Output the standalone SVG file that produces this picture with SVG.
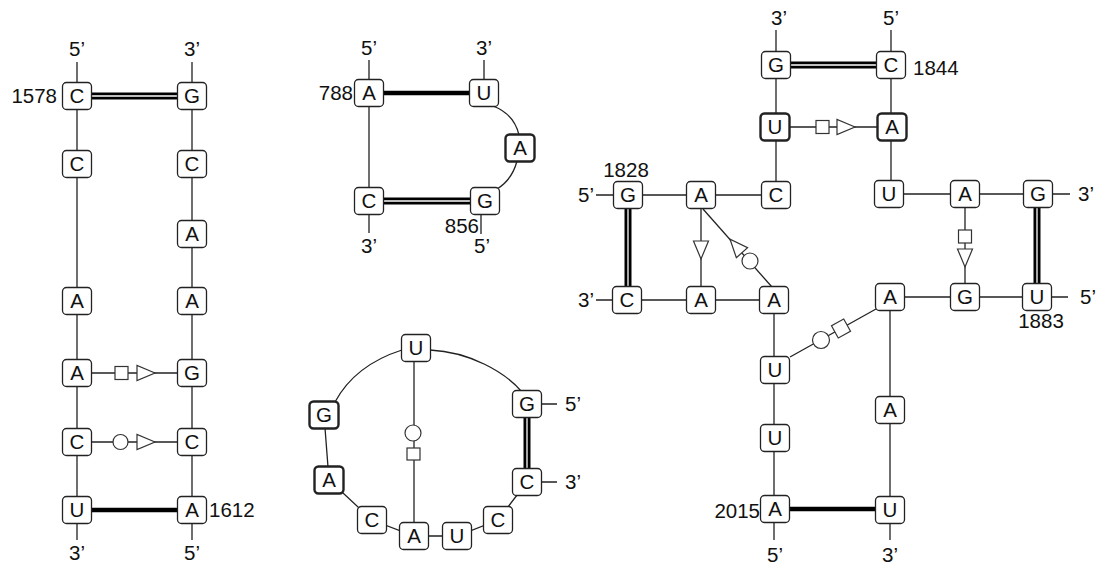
<svg xmlns="http://www.w3.org/2000/svg" width="1096" height="567" viewBox="0 0 1096 567">
<style>
.bg{fill:#fff}
.ln{stroke:#222;stroke-width:1.3;fill:none}
.thick{stroke:#000;stroke-width:4.5}
.dbl{stroke:#000;stroke-width:7}
.dblw{stroke:#fff;stroke-width:1.3}
.sym{fill:#fff;stroke:#333;stroke-width:1.2}
.n use{fill:#fff;stroke:#222;stroke-width:1.3}
.n.b use{stroke-width:2.4}
text{font-family:"Liberation Sans",Arial,sans-serif;font-size:20.5px;fill:#111}
.n text{text-anchor:middle}
.m{text-anchor:middle}
.e{text-anchor:end}
</style>
<defs>
<rect id="box" x="-14.5" y="-13.5" width="29" height="27" rx="4"/>
<polygon id="tri" points="9,0 -9,-7.5 -9,7.5"/>
</defs>
<rect class="bg" width="1096" height="567"/>
<g id="connectors">
<!-- panel 1 -->
<path class="ln" d="M77 62V540M192 62V540"/>
<line class="dbl" x1="91" y1="96" x2="178" y2="96"/><line class="dblw" x1="91" y1="96" x2="178" y2="96"/>
<line class="thick" x1="91" y1="510" x2="178" y2="510"/>
<line class="ln" x1="91" y1="373" x2="178" y2="373"/>
<rect class="sym" x="115" y="366.5" width="13" height="13"/>
<use href="#tri" class="sym" transform="translate(146,373)"/>
<line class="ln" x1="91" y1="442" x2="178" y2="442"/>
<circle class="sym" cx="120.5" cy="442" r="7.5"/>
<use href="#tri" class="sym" transform="translate(146,442)"/>
<!-- panel 2 -->
<path class="ln" d="M369 60V233M484 60V80M481 214V234"/>
<line class="thick" x1="383" y1="93" x2="470" y2="93"/>
<line class="dbl" x1="383" y1="201" x2="471" y2="201"/><line class="dblw" x1="383" y1="201" x2="471" y2="201"/>
<path class="ln" d="M493 106Q514 114 519 135M517 161Q512 180 497 189"/>
<!-- panel 3 -->
<path class="ln" d="M430 350C470 352 505 372 522 392M402 350Q355 365 335 402M324 415L329 480L372 520L414 536L457 536L498 520L527 482"/>
<line class="ln" x1="414" y1="361" x2="414" y2="523"/>
<circle class="sym" cx="413" cy="433" r="8"/>
<rect class="sym" x="407" y="448" width="13" height="12"/>
<line class="dbl" x1="527" y1="418" x2="527" y2="469"/><line class="dblw" x1="527" y1="418" x2="527" y2="469"/>
<path class="ln" d="M541 404H557M541 482H557"/>
<!-- panel 4 -->
<path class="ln" d="M776 30V195M891 30V194M596 195H776M596 300H774M889 194H1070M890 297H1068M774 300V540M890 297V540"/>
<line class="dbl" x1="790" y1="65" x2="877" y2="65"/><line class="dblw" x1="790" y1="65" x2="877" y2="65"/>
<line class="dbl" x1="628" y1="208" x2="628" y2="287"/><line class="dblw" x1="628" y1="208" x2="628" y2="287"/>
<line class="dbl" x1="1037" y1="207" x2="1037" y2="284"/><line class="dblw" x1="1037" y1="207" x2="1037" y2="284"/>
<line class="thick" x1="789" y1="509" x2="876" y2="509"/>
<line class="ln" x1="789" y1="127" x2="878" y2="127"/>
<rect class="sym" x="816" y="120.5" width="13" height="13"/>
<use href="#tri" class="sym" transform="translate(846,127)"/>
<line class="ln" x1="701" y1="208" x2="701" y2="287"/>
<use href="#tri" class="sym" transform="translate(701,250) rotate(90)"/>
<line class="ln" x1="703" y1="209" x2="772" y2="287"/>
<use href="#tri" class="sym" transform="translate(736,246) rotate(-131.5)"/>
<circle class="sym" cx="750" cy="261" r="8"/>
<line class="ln" x1="965" y1="207" x2="965" y2="284"/>
<rect class="sym" x="958.5" y="230" width="13" height="13"/>
<use href="#tri" class="sym" transform="translate(965,258) rotate(90)"/>
<line class="ln" x1="790" y1="357" x2="876" y2="309"/>
<circle class="sym" cx="821" cy="340" r="8.5"/>
<rect class="sym" x="-7" y="-7" width="14" height="14" transform="translate(841,328.5) rotate(-29)"/>
</g>
<g id="p1">
<g id="n1578" class="n"><use href="#box" x="77" y="96"/><text x="77" y="103">C</text></g>
<g id="p1l2" class="n"><use href="#box" x="77" y="164"/><text x="77" y="171">C</text></g>
<g id="p1l3" class="n"><use href="#box" x="77" y="301"/><text x="77" y="308">A</text></g>
<g id="p1l4" class="n"><use href="#box" x="77" y="373"/><text x="77" y="380">A</text></g>
<g id="p1l5" class="n"><use href="#box" x="77" y="442"/><text x="77" y="449">C</text></g>
<g id="p1l6" class="n"><use href="#box" x="77" y="510"/><text x="77" y="517">U</text></g>
<g id="p1r1" class="n"><use href="#box" x="192" y="96"/><text x="192" y="103">G</text></g>
<g id="p1r2" class="n"><use href="#box" x="192" y="164"/><text x="192" y="171">C</text></g>
<g id="p1r3" class="n"><use href="#box" x="192" y="234"/><text x="192" y="241">A</text></g>
<g id="p1r4" class="n"><use href="#box" x="192" y="301"/><text x="192" y="308">A</text></g>
<g id="p1r5" class="n"><use href="#box" x="192" y="373"/><text x="192" y="380">G</text></g>
<g id="p1r6" class="n"><use href="#box" x="192" y="442"/><text x="192" y="449">C</text></g>
<g id="n1612" class="n"><use href="#box" x="192" y="510"/><text x="192" y="517">A</text></g>
<text class="m" x="77" y="56">5’</text><text class="m" x="192" y="56">3’</text>
<text class="m" x="77" y="560">3’</text><text class="m" x="192" y="560">5’</text>
<text class="e" x="57" y="103">1578</text><text x="209" y="517">1612</text>
</g>
<g id="p2">
<g id="n788" class="n"><use href="#box" x="369" y="93"/><text x="369" y="100">A</text></g>
<g id="p2u" class="n"><use href="#box" x="484" y="93"/><text x="484" y="100">U</text></g>
<g id="p2a" class="n b"><use href="#box" x="520" y="148"/><text x="520" y="155">A</text></g>
<g id="p2c" class="n"><use href="#box" x="369" y="201"/><text x="369" y="208">C</text></g>
<g id="n856" class="n"><use href="#box" x="485" y="201"/><text x="485" y="208">G</text></g>
<text class="m" x="369" y="55">5’</text><text class="m" x="484" y="55">3’</text>
<text class="m" x="369" y="253">3’</text><text class="m" x="482" y="253">5’</text>
<text class="e" x="353" y="100">788</text><text class="e" x="479" y="233">856</text>
</g>
<g id="p3">
<g id="p3u" class="n"><use href="#box" x="416" y="348"/><text x="416" y="355">U</text></g>
<g id="p3g" class="n"><use href="#box" x="527" y="404"/><text x="527" y="411">G</text></g>
<g id="p3c" class="n"><use href="#box" x="527" y="482"/><text x="527" y="489">C</text></g>
<g id="p3gb" class="n b"><use href="#box" x="324" y="415"/><text x="324" y="422">G</text></g>
<g id="p3ab" class="n b"><use href="#box" x="329" y="480"/><text x="329" y="487">A</text></g>
<g id="p3c2" class="n"><use href="#box" x="372" y="520"/><text x="372" y="527">C</text></g>
<g id="p3a" class="n"><use href="#box" x="414" y="536"/><text x="414" y="543">A</text></g>
<g id="p3u2" class="n"><use href="#box" x="457" y="536"/><text x="457" y="543">U</text></g>
<g id="p3c3" class="n"><use href="#box" x="498" y="520"/><text x="498" y="527">C</text></g>
<text x="565" y="411">5’</text><text x="565" y="489">3’</text>
</g>
<g id="p4">
<g id="p4g1" class="n"><use href="#box" x="776" y="65"/><text x="776" y="72">G</text></g>
<g id="n1844" class="n"><use href="#box" x="891" y="65"/><text x="891" y="72">C</text></g>
<g id="p4u1" class="n b"><use href="#box" x="775" y="127"/><text x="775" y="134">U</text></g>
<g id="p4a1" class="n b"><use href="#box" x="892" y="127"/><text x="892" y="134">A</text></g>
<g id="n1828" class="n"><use href="#box" x="628" y="195"/><text x="628" y="202">G</text></g>
<g id="p4a2" class="n"><use href="#box" x="701" y="195"/><text x="701" y="202">A</text></g>
<g id="p4c1" class="n"><use href="#box" x="776" y="195"/><text x="776" y="202">C</text></g>
<g id="p4u2" class="n"><use href="#box" x="889" y="194"/><text x="889" y="201">U</text></g>
<g id="p4a3" class="n"><use href="#box" x="965" y="194"/><text x="965" y="201">A</text></g>
<g id="p4g2" class="n"><use href="#box" x="1038" y="194"/><text x="1038" y="201">G</text></g>
<g id="p4c2" class="n"><use href="#box" x="627" y="300"/><text x="627" y="307">C</text></g>
<g id="p4a4" class="n"><use href="#box" x="701" y="300"/><text x="701" y="307">A</text></g>
<g id="p4a5" class="n"><use href="#box" x="774" y="300"/><text x="774" y="307">A</text></g>
<g id="p4a6" class="n"><use href="#box" x="890" y="297"/><text x="890" y="304">A</text></g>
<g id="p4g3" class="n"><use href="#box" x="965" y="297"/><text x="965" y="304">G</text></g>
<g id="n1883" class="n"><use href="#box" x="1037" y="297"/><text x="1037" y="304">U</text></g>
<g id="p4u3" class="n"><use href="#box" x="775" y="370"/><text x="775" y="377">U</text></g>
<g id="p4u4" class="n"><use href="#box" x="775" y="438"/><text x="775" y="445">U</text></g>
<g id="n2015" class="n"><use href="#box" x="775" y="509"/><text x="775" y="516">A</text></g>
<g id="p4a7" class="n"><use href="#box" x="890" y="410"/><text x="890" y="417">A</text></g>
<g id="p4u5" class="n"><use href="#box" x="890" y="510"/><text x="890" y="517">U</text></g>
<text class="m" x="779" y="25">3’</text><text class="m" x="891" y="25">5’</text>
<text class="e" x="594" y="202">5’</text><text class="e" x="594" y="307">3’</text>
<text x="1078" y="201">3’</text><text x="1080" y="304">5’</text>
<text class="m" x="775" y="562">5’</text><text class="m" x="890" y="562">3’</text>
<text class="m" x="626" y="177">1828</text><text x="913" y="75">1844</text>
<text class="m" x="1041" y="328">1883</text><text class="e" x="760" y="518">2015</text>
</g>
</svg>
